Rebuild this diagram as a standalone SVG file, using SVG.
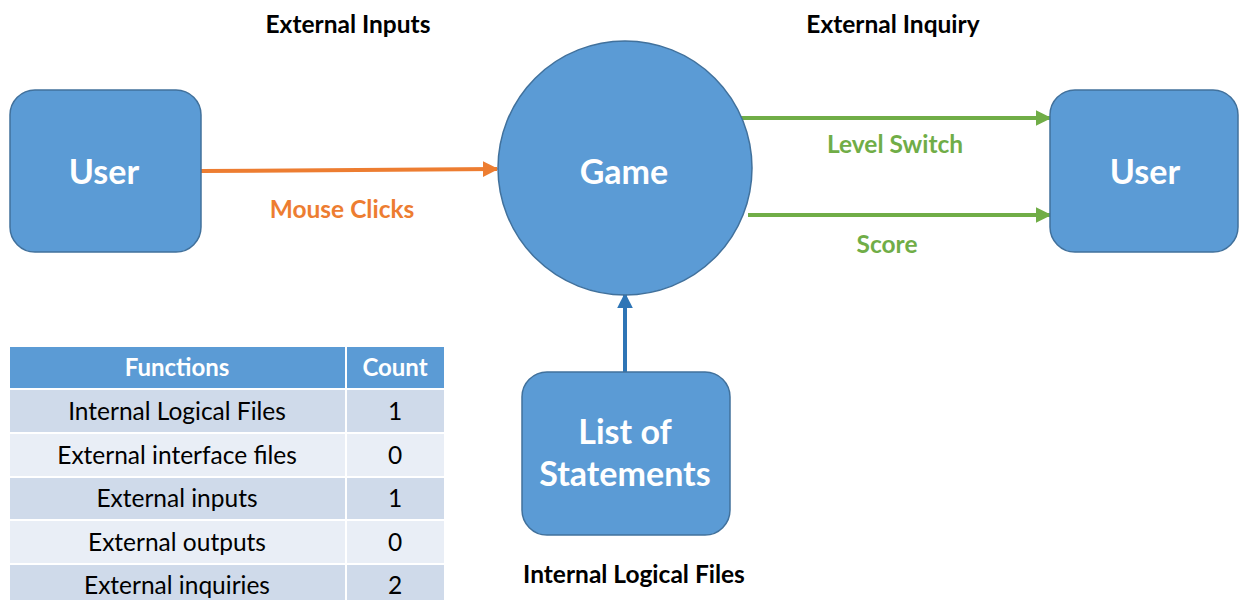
<svg xmlns="http://www.w3.org/2000/svg" width="1239" height="600" viewBox="0 0 1239 600">
<defs>
<style>
.node{fill:#5B9BD5;stroke:#41719C;stroke-width:1.5}
.nt{font-family:Lato,"Liberation Sans",sans-serif;font-weight:bold;fill:#fff;text-anchor:middle;font-size:34px}
.lbl{font-family:Lato,"Liberation Sans",sans-serif;font-weight:bold;font-size:24.5px;text-anchor:middle}
.th{font-family:Lato,"Liberation Sans",sans-serif;font-weight:bold;font-size:24px;fill:#fff;text-anchor:middle}
.td{font-family:Lato,"Liberation Sans",sans-serif;font-size:24.5px;fill:#000;text-anchor:middle}
</style>
<marker id="ao" viewBox="0 0 10 10" refX="9" refY="5" markerWidth="4" markerHeight="4" orient="auto"><path d="M0,0L10,5L0,10z" fill="#ED7D31"/></marker>
<marker id="ag" viewBox="0 0 10 10" refX="9" refY="5" markerWidth="4" markerHeight="4" orient="auto"><path d="M0,0L10,5L0,10z" fill="#70AD47"/></marker>
<marker id="ab" viewBox="0 0 10 10" refX="9" refY="5" markerWidth="4" markerHeight="4" orient="auto"><path d="M0,0L10,5L0,10z" fill="#2E75B6"/></marker>
</defs>
<rect width="1239" height="600" fill="#fff"/>
<text class="lbl" x="348" y="33" fill="#000">External Inputs</text>
<text class="lbl" x="893" y="33" fill="#000">External Inquiry</text>
<text class="lbl" x="634" y="583" fill="#000">Internal Logical Files</text>
<g id="connectors">
<line x1="201" y1="171" x2="497" y2="169" stroke="#ED7D31" stroke-width="4" marker-end="url(#ao)"/>
<line x1="740" y1="118" x2="1050" y2="118" stroke="#70AD47" stroke-width="4" marker-end="url(#ag)"/>
<line x1="748" y1="215" x2="1050" y2="215" stroke="#70AD47" stroke-width="4" marker-end="url(#ag)"/>
<line x1="625" y1="372" x2="625" y2="294" stroke="#2E75B6" stroke-width="4" marker-end="url(#ab)"/>
<text class="lbl" x="342" y="218" fill="#ED7D31">Mouse Clicks</text>
<text class="lbl" x="895" y="153" fill="#70AD47">Level Switch</text>
<text class="lbl" x="887" y="253" fill="#70AD47">Score</text>
</g>
<g id="user-left">
<rect class="node" x="10" y="90" width="191" height="162" rx="25"/>
<text class="nt" x="104" y="184">User</text>
</g>
<g id="game">
<circle class="node" cx="625" cy="168" r="127"/>
<text class="nt" x="624" y="184">Game</text>
</g>
<g id="user-right">
<rect class="node" x="1050" y="90" width="188" height="162" rx="25"/>
<text class="nt" x="1145" y="184">User</text>
</g>
<g id="list">
<rect class="node" x="522" y="372" width="208" height="163" rx="25"/>
<text class="nt" x="625" y="444">List of</text>
<text class="nt" x="625" y="486">Statements</text>
</g>
<g id="table">
<rect x="10" y="347" width="335" height="41" fill="#5B9BD5"/>
<rect x="347" y="347" width="97" height="41" fill="#5B9BD5"/>
<rect x="10" y="390" width="335" height="42" fill="#CFDAEA"/>
<rect x="347" y="390" width="97" height="42" fill="#CFDAEA"/>
<rect x="10" y="434" width="335" height="42" fill="#E9EEF6"/>
<rect x="347" y="434" width="97" height="42" fill="#E9EEF6"/>
<rect x="10" y="478" width="335" height="41" fill="#CFDAEA"/>
<rect x="347" y="478" width="97" height="41" fill="#CFDAEA"/>
<rect x="10" y="521" width="335" height="42" fill="#E9EEF6"/>
<rect x="347" y="521" width="97" height="42" fill="#E9EEF6"/>
<rect x="10" y="565" width="335" height="35" fill="#CFDAEA"/>
<rect x="347" y="565" width="97" height="35" fill="#CFDAEA"/>
<text class="th" x="177" y="376">Functions</text>
<text class="th" x="395" y="376">Count</text>
<text class="td" x="177" y="420">Internal Logical Files</text>
<text class="td" x="395" y="420">1</text>
<text class="td" x="177" y="464">External interface files</text>
<text class="td" x="395" y="464">0</text>
<text class="td" x="177" y="507">External inputs</text>
<text class="td" x="395" y="507">1</text>
<text class="td" x="177" y="551">External outputs</text>
<text class="td" x="395" y="551">0</text>
<text class="td" x="177" y="594">External inquiries</text>
<text class="td" x="395" y="594">2</text>
</g>
</svg>
